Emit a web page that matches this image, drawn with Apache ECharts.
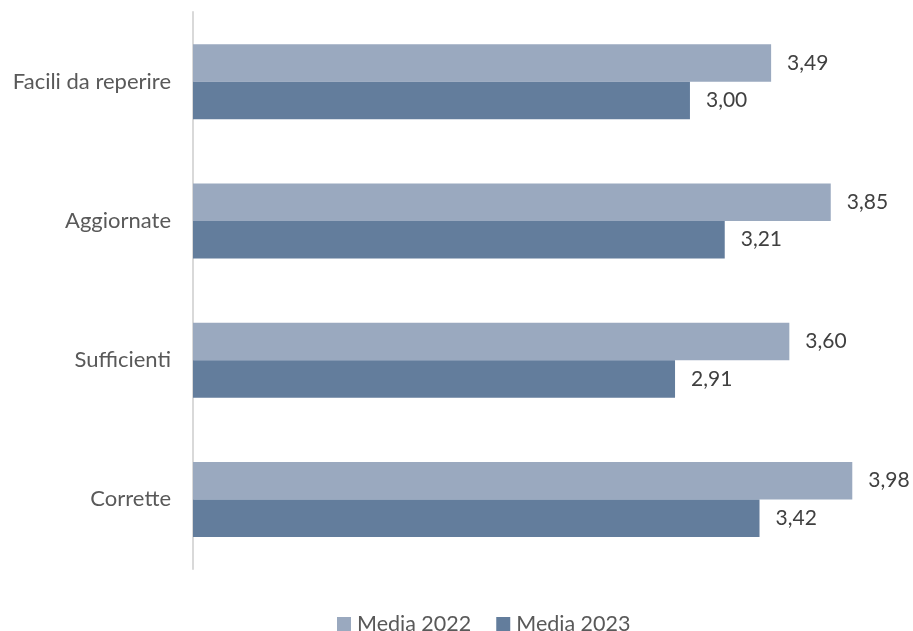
<!DOCTYPE html>
<html><head><meta charset="utf-8">
<script src="https://cdn.jsdelivr.net/npm/echarts@6/dist/echarts.min.js"></script>
<style>html,body{margin:0;padding:0;background:#fff}#c{width:913px;height:631px}</style>
</head><body><div id="c"></div>
<script>
var categories = ['Facili da reperire', 'Aggiornate', 'Sufficienti', 'Corrette'];
var media2022 = [3.49, 3.85, 3.60, 3.98];
var media2023 = [3.00, 3.21, 2.91, 3.42];
var seriesNames = ['Media 2022', 'Media 2023'];
var FONT = 'Lato';
var chart = echarts.init(document.getElementById('c'));
function fmt(p){ return p.value.toFixed(2).replace('.', ','); }
chart.setOption({
  animation: false,
  textStyle: { fontFamily: FONT },
  grid: { left: 193, right: 57.4, top: 12, bottom: 62, containLabel: false },
  legend: {
    top: 608, left: 332, itemWidth: 14, itemHeight: 14, itemGap: 25,
    icon: 'rect',
    textStyle: { fontFamily: FONT, fontSize: 21.5, color: '#595959', padding: [0, 0, 0, 1] },
    data: seriesNames
  },
  xAxis: { type: 'value', min: 0, max: 4, show: false, splitLine: { show: false } },
  yAxis: {
    type: 'category', data: categories, inverse: true,
    axisLine: { show: true, lineStyle: { color: '#d9d9d9', width: 2 } },
    axisTick: { show: false },
    axisLabel: { fontFamily: FONT, fontSize: 22, color: '#595959', margin: 22 }
  },
  series: [
    { name: seriesNames[0], type: 'bar', data: media2022, barWidth: 37.5, barGap: '0%',
      itemStyle: { color: '#9aa9bf' },
      label: { show: true, position: 'right', distance: 16, formatter: fmt, fontFamily: FONT, fontSize: 21, color: '#404040' } },
    { name: seriesNames[1], type: 'bar', data: media2023, barWidth: 37.5,
      itemStyle: { color: '#637d9c' },
      label: { show: true, position: 'right', distance: 16, formatter: fmt, fontFamily: FONT, fontSize: 21, color: '#404040' } }
  ]
});
</script></body></html>
